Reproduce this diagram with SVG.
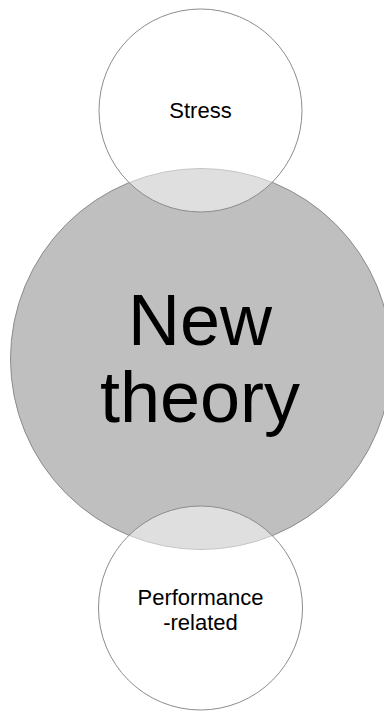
<svg xmlns="http://www.w3.org/2000/svg" width="384" height="711" viewBox="0 0 384 711">
<style>
.big{fill:#bfbfbf;stroke:#8c8c8c;stroke-width:1}
.small{fill:#ffffff;fill-opacity:0.5;stroke:#8c8c8c;stroke-width:1}
text{font-family:"Liberation Sans",Arial,sans-serif;fill:#000;text-anchor:middle}
.s{font-size:22px}
.l{font-size:72px}
</style>
<rect width="384" height="711" fill="#ffffff"/>
<g id="new-theory">
<circle class="big" cx="201" cy="359" r="190.5"/>
<text class="l" x="200" y="345">New</text>
<text class="l" x="200" y="422">theory</text>
</g>
<g id="stress">
<circle class="small" cx="200.5" cy="110.5" r="101.5"/>
<text class="s" x="200.5" y="118">Stress</text>
</g>
<g id="performance">
<circle class="small" cx="200.5" cy="608" r="102"/>
<text class="s" x="200.5" y="605">Performance</text>
<text class="s" x="200.5" y="630">-related</text>
</g>
<g id="connectors"/>
</svg>
